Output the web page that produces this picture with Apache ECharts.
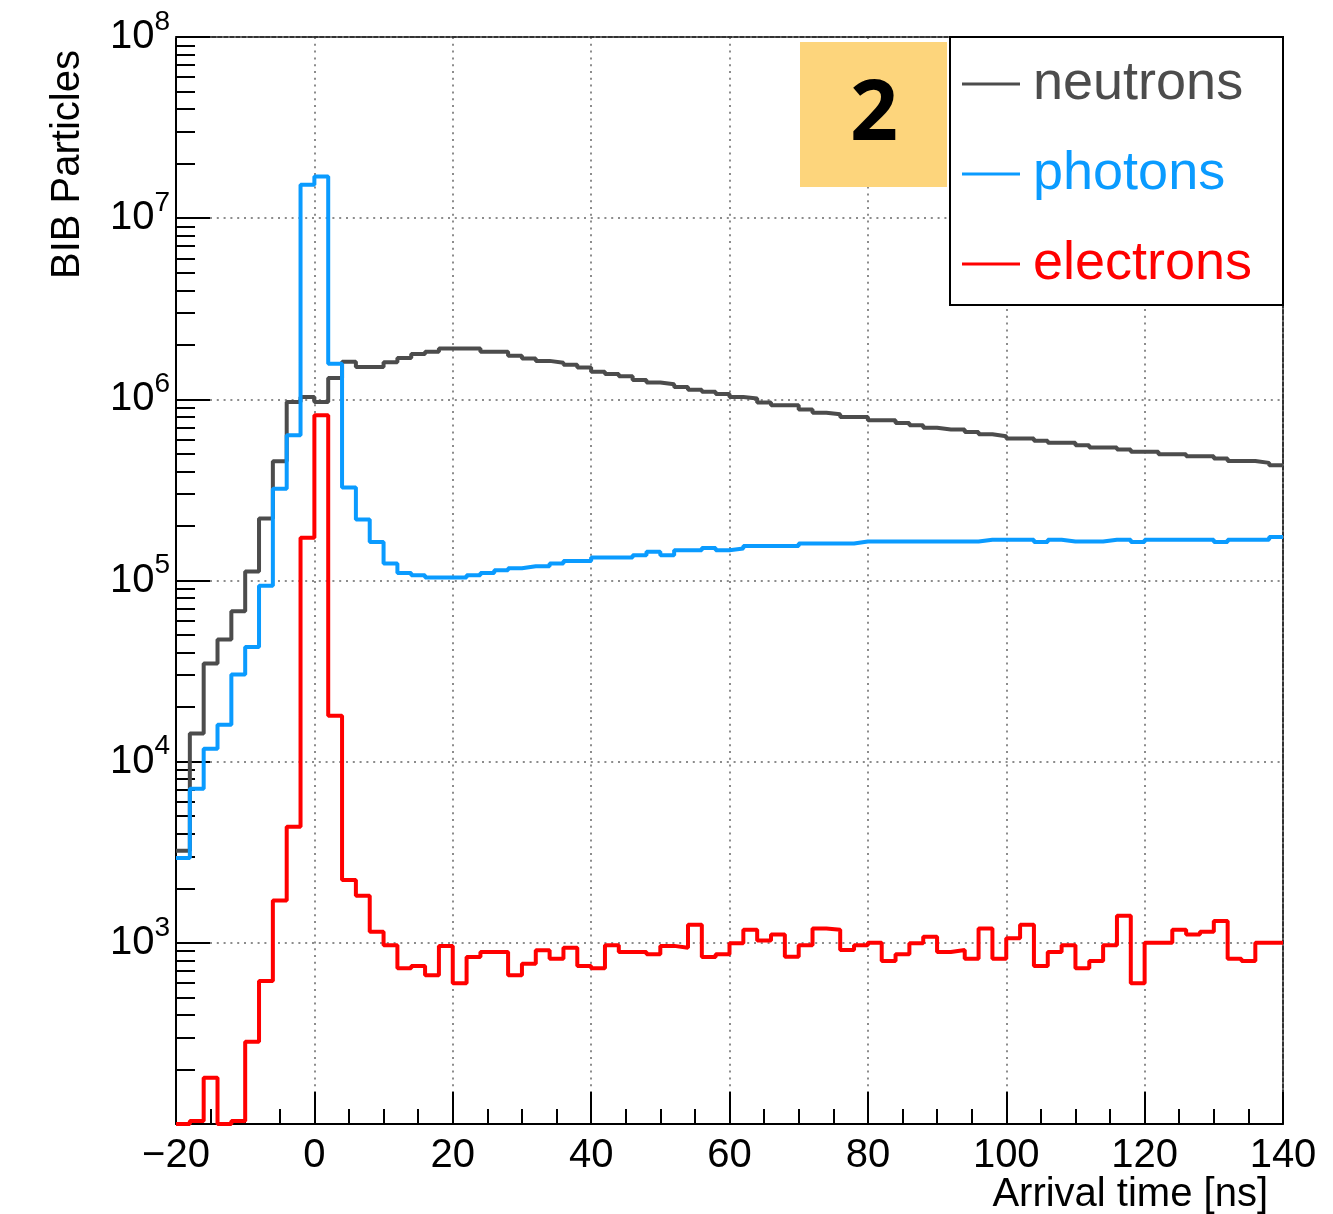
<!DOCTYPE html>
<html>
<head>
<meta charset="utf-8">
<title>BIB arrival time</title>
<script src="https://cdn.jsdelivr.net/npm/echarts/dist/echarts.min.js"></script>
<style>
  html, body { margin: 0; padding: 0; background: #fff; }
  #main { width: 1333px; height: 1214px; }
</style>
</head>
<body>
<div id="main"></div>
<script>
// histogram: 80 bins of 2 ns from -20 to 140 ns
const binStart = -20
const binWidth = 2

// values, one per bin
const neutrons = [3220, 14300, 34800, 47300, 67600, 112000, 220000, 455000, 966000, 1030000,
  966000, 1310000, 1610000, 1510000, 1510000, 1600000, 1690000, 1780000, 1830000, 1910000,
  1910000, 1910000, 1830000, 1830000, 1740000, 1680000, 1630000, 1590000, 1550000, 1500000,
  1420000, 1380000, 1340000, 1280000, 1240000, 1210000, 1170000, 1130000, 1100000, 1070000,
  1030000, 1010000, 962000, 929000, 929000, 879000, 844000, 828000, 800000, 800000,
  767000, 767000, 741000, 720000, 696000, 682000, 682000, 661000, 642000, 626000,
  608000, 608000, 590000, 575000, 575000, 558000, 542000, 542000, 528000, 513000,
  513000, 498000, 498000, 485000, 485000, 471000, 457000, 457000, 446000, 433000]

const photons = [2940, 7080, 11800, 16000, 30300, 42900, 93600, 321000, 634000, 15300000,
  17000000, 1570000, 326000, 217000, 163000, 124000, 110000, 107000, 104000, 104000,
  104000, 107000, 110000, 114000, 117000, 120000, 120000, 124000, 128000, 128000,
  134000, 134000, 134000, 138000, 144000, 138000, 147000, 147000, 151000, 147000,
  150000, 155000, 155000, 155000, 155000, 160000, 160000, 160000, 160000, 164000,
  164000, 164000, 164000, 164000, 164000, 164000, 164000, 164000, 168000, 168000,
  168000, 168000, 163000, 168000, 164000, 164000, 164000, 168000, 168000, 163000,
  168000, 168000, 168000, 168000, 168000, 163000, 168000, 168000, 168000, 174000]

const electrons = [100, 104, 180, 100, 104, 284, 615, 1710, 4370, 172000,
  818000, 17900, 2220, 1820, 1150, 970, 724, 745, 662, 962,
  598, 836, 891, 891, 662, 767, 910, 818, 940, 745,
  724, 970, 891, 891, 865, 962, 940, 1260, 836, 865,
  995, 1180, 1030, 1110, 838, 970, 1200, 1180, 912, 970,
  1000, 795, 865, 995, 1080, 891, 912, 818, 1200, 818,
  1060, 1260, 745, 891, 970, 724, 795, 970, 1410, 598,
  1000, 1000, 1180, 1110, 1150, 1320, 818, 795, 1000, 1000]

const seriesNames = ['neutrons', 'photons', 'electrons']
const seriesColors = ['#4c4c4c', '#0a9bff', '#ff0000']

// axis ticks
const decadeTicks = [1e2, 1e3, 1e4, 1e5, 1e6, 1e7, 1e8]
const decadeLabels = [1e3, 1e4, 1e5, 1e6, 1e7, 1e8]

const font = 'Liberation Sans'

// minor ticks 2..9 x 10^n (ROOT style)
let minorTicks = []
for (let e = 2; e < 8; e++) {
  for (let k = 2; k <= 9; k++) minorTicks.push(k * Math.pow(10, e))
}

// turn bin contents into points at bin lower edges + closing point
function toSteps(vals) {
  let pts = vals.map((v, i) => [binStart + i * binWidth, v])
  pts.push([binStart + vals.length * binWidth, vals[vals.length - 1]])
  return pts
}

const myChart = echarts.init(document.getElementById('main'))

const gridDots = { color: '#8c8c8c', width: 2, type: [2, 4.8] }
const frameDash = { color: '#333', width: 2, type: [4, 2] }

const option = {
  animation: false,
  grid: { left: 176, right: 50, top: 37, bottom: 90, containLabel: false },
  xAxis: [{
    type: 'value',
    min: -20,
    max: 140,
    interval: 20,
    axisLine: { onZero: false, lineStyle: { color: '#000', width: 2 } },
    axisTick: { inside: true, length: 32, lineStyle: { color: '#000', width: 2 } },
    minorTick: { show: true, splitNumber: 4, length: 15, lineStyle: { color: '#000', width: 2 } },
    axisLabel: {
      margin: 12,
      color: '#000',
      fontFamily: font,
      fontSize: 40,
      formatter: v => String(v).replace('-', '\u2212')
    },
    splitLine: { show: true, lineStyle: gridDots }
  }, {
    // top frame line
    type: 'value', position: 'top', min: -20, max: 140,
    axisLine: { show: true, onZero: false, lineStyle: frameDash },
    axisTick: { show: false }, axisLabel: { show: false }, splitLine: { show: false }
  }],
  yAxis: [{
    type: 'log',
    logBase: 10,
    min: 100,
    max: 1e8,
    axisLine: { show: true, onZero: false, lineStyle: { color: '#000', width: 2 } },
    axisTick: { inside: true, length: 34, customValues: decadeTicks, lineStyle: { color: '#000', width: 2 } },
    axisLabel: {
      customValues: decadeLabels,
      margin: 6,
      color: '#000',
      formatter: v => '{b|10}{s|' + Math.round(Math.log10(v)) + '}',
      rich: {
        b: { fontFamily: font, fontSize: 40, color: '#000' },
        s: { fontFamily: font, fontSize: 28, color: '#000', padding: [0, 0, 30, 0] }
      }
    },
    splitLine: { show: true, lineStyle: gridDots }
  }, {
    // minor ticks only
    type: 'log', logBase: 10, min: 100, max: 1e8, position: 'left',
    axisLine: { show: false, onZero: false },
    axisTick: { inside: true, length: 19, customValues: minorTicks, lineStyle: { color: '#000', width: 2 } },
    axisLabel: { show: false },
    splitLine: { show: false }
  }, {
    // right frame line
    type: 'log', logBase: 10, min: 100, max: 1e8, position: 'right',
    axisLine: { show: true, onZero: false, lineStyle: frameDash },
    axisTick: { show: false }, axisLabel: { show: false }, splitLine: { show: false }
  }],
  legend: {
    z: 20,
    left: 962,
    top: 54,
    padding: 0,
    orient: 'vertical',
    icon: 'rect',
    itemWidth: 58,
    itemHeight: 3,
    itemGap: 30,
    selectedMode: false,
    textStyle: { fontFamily: font, fontSize: 54, lineHeight: 60, padding: [0, 0, 0, 8] },
    data: seriesNames.map((n, i) => ({ name: n, textStyle: { color: seriesColors[i] } }))
  },
  graphic: [
    {
      type: 'rect', z: 15,
      shape: { x: 950, y: 37, width: 333, height: 268 },
      style: { fill: '#fff', stroke: '#000', lineWidth: 2 }
    },
    {
      type: 'rect', z: 15,
      shape: { x: 800, y: 42, width: 147, height: 145 },
      style: { fill: '#fdd57c' }
    },
    {
      type: 'text', z: 16, x: 874, y: 116,
      style: {
        text: '2', fill: '#000', font: 'bold 84px "Noto Sans"',
        textAlign: 'center', textVerticalAlign: 'middle'
      }
    },
    {
      type: 'text', z: 16, x: 68, y: 50, rotation: Math.PI / 2,
      style: {
        text: 'BIB Particles', fill: '#000', font: '40px "Liberation Sans"',
        textAlign: 'right', textVerticalAlign: 'middle'
      }
    },
    {
      type: 'text', z: 16, x: 1268, y: 1195,
      style: {
        text: 'Arrival time [ns]', fill: '#000', font: '40px "Liberation Sans"',
        textAlign: 'right', textVerticalAlign: 'middle'
      }
    }
  ],
  series: [neutrons, photons, electrons].map((vals, i) => ({
    name: seriesNames[i],
    type: 'line',
    step: 'end',
    symbol: 'none',
    color: seriesColors[i],
    lineStyle: { color: seriesColors[i], width: 4 },
    data: toSteps(vals)
  }))
}

myChart.setOption(option)
</script>
</body>
</html>
